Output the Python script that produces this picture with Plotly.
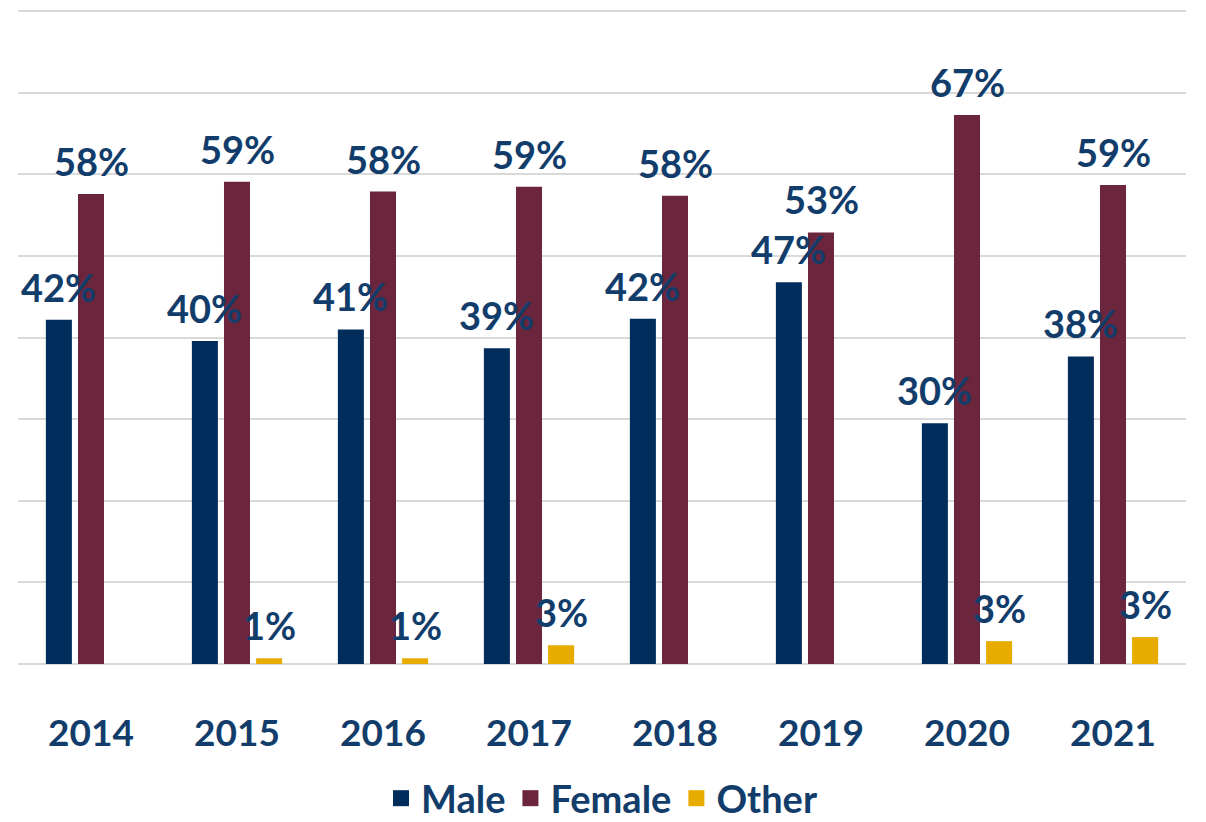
import plotly.graph_objects as go

years = ["2014", "2015", "2016", "2017", "2018", "2019", "2020", "2021"]
male = [42.2, 39.6, 41.0, 38.7, 42.3, 46.8, 29.5, 37.7]
female = [57.6, 59.1, 57.9, 58.5, 57.4, 52.9, 67.3, 58.7]
other = [None, 0.7, 0.7, 2.3, None, None, 2.8, 3.3]
male_lbl = ["42%", "40%", "41%", "39%", "42%", "47%", "30%", "38%"]
female_lbl = ["58%", "59%", "58%", "59%", "58%", "53%", "67%", "59%"]
other_lbl = ["", "1%", "1%", "3%", "", "", "3%", "3%"]

series = [
    ("Male", male, male_lbl, "#012D5C"),
    ("Female", female, female_lbl, "#6B263D"),
    ("Other", other, other_lbl, "#E8AB00"),
]

FONT = "Lato"
TXT = "#123D6B"
# the page adds an 8px body margin, so the figure is 8px smaller each way
W, H = 1198, 814
ML, MR, MT, MB = 10, 20, 0, 158
BARGAP, GROUPGAP = 0.34, 0.19

fig = go.Figure()
for name, vals, lbls, col in series:
    fig.add_trace(go.Bar(
        x=years, y=vals, name=name, marker_color=col,
        marker_line_width=0, showlegend=False,
    ))
for name, vals, lbls, col in series:
    fig.add_trace(go.Scatter(
        x=[None], y=[None], mode="markers", name=name,
        marker=dict(symbol="square", size=24, color=col),
        showlegend=True,
    ))

# data labels, placed above each bar of the group (x = category index)
slot = (W - ML - MR) / len(years) * (1 - BARGAP) / len(series)
for i, (name, vals, lbls, col) in enumerate(series):
    off = (i - (len(series) - 1) / 2) * slot
    for k, (v, t) in enumerate(zip(vals, lbls)):
        if v is None or not t:
            continue
        fig.add_annotation(
            x=k, y=v, text=t, showarrow=False, xanchor="center",
            yanchor="bottom", xshift=off, yshift=8,
            font=dict(family=FONT, size=38, color=TXT, weight="bold"),
        )

fig.update_layout(
    width=W, height=H,
    margin=dict(l=ML, r=MR, t=MT, b=MB, autoexpand=False),
    plot_bgcolor="white", paper_bgcolor="white",
    barmode="group", bargap=BARGAP, bargroupgap=GROUPGAP,
    font=dict(family=FONT, color=TXT),
    legend=dict(orientation="h", x=0.5, xanchor="center", y=-0.205, yanchor="middle",
                font=dict(family=FONT, size=38, color=TXT, weight="bold"),
                itemsizing="trace", itemwidth=30, tracegroupgap=0),
)
fig.update_xaxes(
    type="category", range=[-0.5, len(years) - 0.5], automargin=False,
    tickfont=dict(family=FONT, size=37, color=TXT, weight="bold"),
    ticklabelstandoff=44, showline=False, showgrid=False,
)
fig.update_yaxes(
    range=[0, 80.4], dtick=10, showticklabels=False, showgrid=True,
    gridcolor="#D9D9D9", gridwidth=2, zeroline=True, zerolinecolor="#D9D9D9",
    zerolinewidth=2, automargin=False,
)

fig.write_html("out.html")
